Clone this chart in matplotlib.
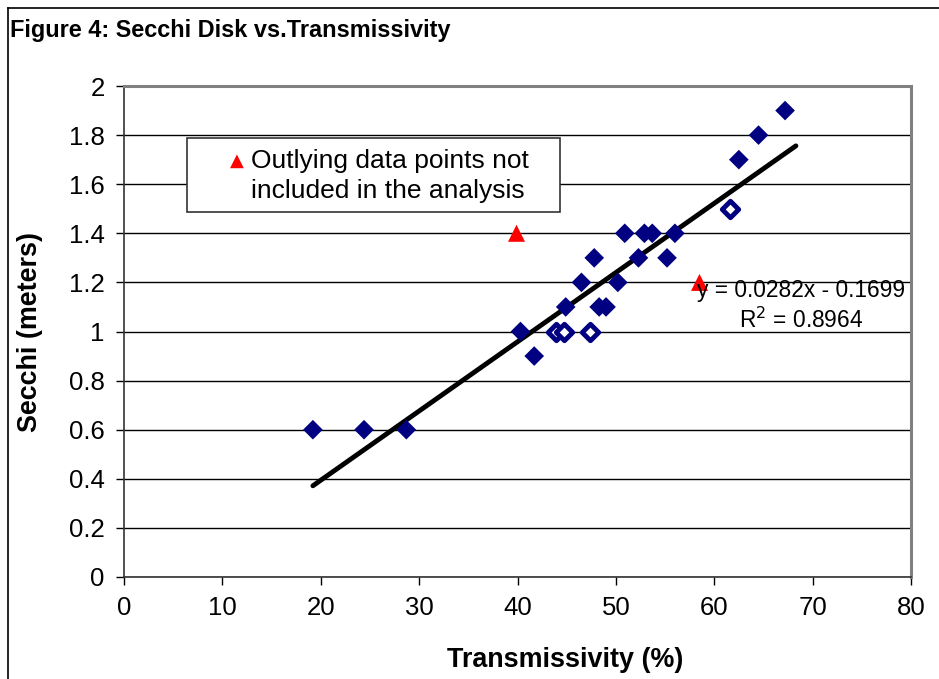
import numpy as np
import matplotlib.pyplot as plt
from matplotlib.patches import Rectangle
from matplotlib.lines import Line2D

plt.rcParams['font.family'] = ['Liberation Sans', 'DejaVu Sans']

# data
trans = [19.2, 24.4, 28.7, 40.3, 41.7, 44.9, 46.5, 47.8, 48.3, 49.0,
         50.2, 50.9, 52.3, 52.9, 53.7, 55.2, 56.0, 62.5, 64.5, 67.2]
secchi = [0.6, 0.6, 0.6, 1.0, 0.9, 1.1, 1.2, 1.3, 1.1, 1.1,
          1.2, 1.4, 1.3, 1.4, 1.4, 1.3, 1.4, 1.7, 1.8, 1.9]
# overlapping points that show up hollow
trans_hollow = [43.9, 44.7, 47.4, 61.6]
secchi_hollow = [1.0, 1.0, 1.0, 1.5]
# outliers left out of the fit
trans_out = [39.9, 58.5]
secchi_out = [1.4, 1.2]

slope, intercept = 0.0282, -0.1699
r2 = 0.8964
fit_x = [19.2, 68.3]

W, H = 939, 679
fig = plt.figure(figsize=(W / 100, H / 100), dpi=100)
ax = fig.add_axes([124 / W, 1 - 577 / H, (911 - 124) / W, (577 - 86) / H])

# outer chart frame (only left and top visible)
fig.add_artist(Line2D([8 / W, 8 / W], [0, 1 - 8 / H], color='black', lw=1.2, transform=fig.transFigure))
fig.add_artist(Line2D([8 / W, 1], [1 - 8 / H, 1 - 8 / H], color='black', lw=1.2, transform=fig.transFigure))

fig.text(10 / W, 1 - 31 / H, 'Figure 4: Secchi Disk vs.Transmissivity', fontsize=16.9,
         fontweight='bold', va='center', ha='left')

ax.set_xlim(0, 80)
ax.set_ylim(0, 2)
ax.set_xticks(np.arange(0, 81, 10))
ax.set_yticks(np.arange(0, 2.01, 0.2))
ax.set_yticklabels(['0', '0.2', '0.4', '0.6', '0.8', '1', '1.2', '1.4', '1.6', '1.8', '2'])
ax.yaxis.grid(True, color='black', lw=1.0)
ax.set_axisbelow(True)
ax.tick_params(axis='both', direction='out', length=6, width=1, labelsize=18.5, pad=8)

for s in ['left', 'bottom']:
    ax.spines[s].set_color('#333333')
    ax.spines[s].set_linewidth(1.2)
for s in ['top', 'right']:
    ax.spines[s].set_color('#808080')
    ax.spines[s].set_linewidth(2.2)

ax.plot(fit_x, [slope * v + intercept for v in fit_x], color='black', lw=3.5, zorder=2,
        solid_capstyle='round')
ax.scatter(trans, secchi, marker='D', s=100, color='#000080', edgecolors='none', zorder=3)
ax.scatter(trans_hollow, secchi_hollow, marker='D', s=70, facecolors='white',
           edgecolors='#000080', linewidths=3.5, zorder=3)
ax.scatter(trans_out, secchi_out, marker='^', s=150, color='#ff0000', edgecolors='none', zorder=3)

ax.text(68.8, 1.165, 'y = 0.0282x - 0.1699', fontsize=16.4, ha='center', va='center')
ax.text(68.8, 1.045, 'R$^2$ = %.4f' % r2, fontsize=16.4, ha='center', va='center')

ax.set_xlabel('Transmissivity (%)', fontsize=19.4, fontweight='bold')
ax.xaxis.set_label_coords((565 - 124) / 787, -(660 - 577) / 491)
ax.xaxis.label.set_va('center')
ax.set_ylabel('Secchi (meters)', fontsize=19.4, fontweight='bold')
ax.yaxis.set_label_coords(-(124 - 30) / 787, 0.5)
ax.yaxis.label.set_va('center')

# legend-style note box
fig.add_artist(Rectangle((187 / W, 1 - 212 / H), (560 - 187) / W, (212 - 138) / H,
                         transform=fig.transFigure, fill=True, facecolor='white',
                         edgecolor='#333333', lw=1.2, zorder=5))
fig.text(237 / W, 1 - 161 / H, '\u25b2', color='#ff0000', fontsize=13, ha='center', va='center',
         family=['DejaVu Sans'], zorder=6)
fig.text(251 / W, 1 - 161 / H, 'Outlying data points not', fontsize=19, ha='left', va='center', zorder=6)
fig.text(251 / W, 1 - 191 / H, 'included in the analysis', fontsize=19, ha='left', va='center', zorder=6)

fig.savefig('out.png', dpi=100)
